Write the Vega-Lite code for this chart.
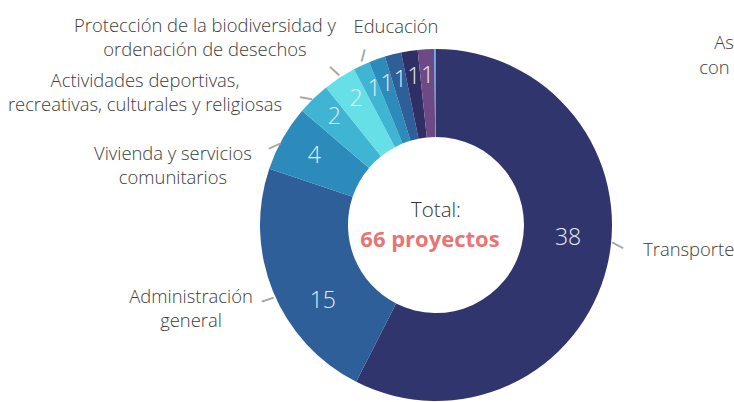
{
  "$schema": "https://vega.github.io/schema/vega-lite/v6.json",
  "width": 352,
  "height": 352,
  "autosize": {"type": "none"},
  "padding": {"left": 260, "top": 49, "right": 122, "bottom": 1},
  "background": "white",
  "config": {
    "view": {"stroke": null},
    "text": {"font": "Open Sans"}
  },
  "data": {
    "values": [
      {"rank": 1, "name": "Transporte", "value": 38, "label": "Transporte"},
      {"rank": 2, "name": "Administración general", "value": 15, "label": "Administración\ngeneral"},
      {"rank": 3, "name": "Vivienda y servicios comunitarios", "value": 4, "label": "Vivienda y servicios\ncomunitarios"},
      {"rank": 4, "name": "Actividades deportivas, recreativas, culturales y religiosas", "value": 2, "label": "Actividades deportivas,\nrecreativas, culturales y religiosas"},
      {"rank": 5, "name": "Protección de la biodiversidad y ordenación de desechos", "value": 2, "label": "Protección de la biodiversidad y\nordenación de desechos"},
      {"rank": 6, "name": "Educación", "value": 1, "label": "Educación"},
      {"rank": 7, "name": "Otro sector A", "value": 1, "label": ""},
      {"rank": 8, "name": "Otro sector B", "value": 1, "label": ""},
      {"rank": 9, "name": "Otro sector C", "value": 1, "label": ""},
      {"rank": 10, "name": "Otro sector D", "value": 1, "label": ""},
      {"rank": 11, "name": "Asuntos", "value": 0.1, "label": "Asuntos de género\ncon enfoque territorial"}
    ]
  },
  "layer": [
    {
      "mark": {"type": "arc", "innerRadius": 88, "radius": 176},
      "encoding": {
        "theta": {"field": "value", "type": "quantitative", "stack": true},
        "order": {"field": "rank", "type": "quantitative"},
        "color": {
          "field": "name", "type": "nominal", "legend": null,
          "scale": {
            "domain": ["Transporte", "Administración general", "Vivienda y servicios comunitarios", "Actividades deportivas, recreativas, culturales y religiosas", "Protección de la biodiversidad y ordenación de desechos", "Educación", "Otro sector A", "Otro sector B", "Otro sector C", "Otro sector D", "Asuntos"],
            "range": ["#31356e", "#2e5f99", "#2d8bbb", "#40b5d3", "#66e0e6", "#40b5d3", "#2d8bbb", "#2e5f99", "#2f2f66", "#6d4a86", "#3fa9f5"]
          }
        }
      }
    },
    {
      "mark": {"type": "text", "radius": 146, "dy": -3.5, "align": "center", "baseline": "middle", "fontSize": 23, "fontWeight": 300, "color": "#e6ecf2"},
      "encoding": {
        "theta": {"field": "value", "type": "quantitative", "stack": true},
        "order": {"field": "rank", "type": "quantitative"},
        "detail": {"field": "name", "type": "nominal"},
        "text": {"condition": {"test": "datum.value >= 1 && datum.value < 3", "field": "value", "type": "nominal"}, "value": ""}
      }
    },
    {
      "mark": {"type": "text", "radius": 140, "align": "center", "baseline": "middle", "fontSize": 23, "fontWeight": 300, "color": "#e6ecf2"},
      "encoding": {
        "theta": {"field": "value", "type": "quantitative", "stack": true},
        "order": {"field": "rank", "type": "quantitative"},
        "detail": {"field": "name", "type": "nominal"},
        "text": {"condition": {"test": "datum.value == 4", "field": "value", "type": "nominal"}, "value": ""}
      }
    },
    {
      "mark": {"type": "text", "radius": 133, "dx": 2.7, "dy": -18, "align": "center", "baseline": "middle", "fontSize": 23, "fontWeight": 300, "color": "#e6ecf2"},
      "encoding": {
        "theta": {"field": "value", "type": "quantitative", "stack": true},
        "order": {"field": "rank", "type": "quantitative"},
        "detail": {"field": "name", "type": "nominal"},
        "text": {"condition": {"test": "datum.value == 38", "field": "value", "type": "nominal"}, "value": ""}
      }
    },
    {
      "mark": {"type": "text", "radius": 133, "dx": 10, "dy": 26, "align": "center", "baseline": "middle", "fontSize": 23, "fontWeight": 300, "color": "#e6ecf2"},
      "encoding": {
        "theta": {"field": "value", "type": "quantitative", "stack": true},
        "order": {"field": "rank", "type": "quantitative"},
        "detail": {"field": "name", "type": "nominal"},
        "text": {"condition": {"test": "datum.value == 15", "field": "value", "type": "nominal"}, "value": ""}
      }
    },
    {
      "mark": {"type": "text", "radius": 176, "dx": 36, "dy": -10, "align": "left", "baseline": "alphabetic", "fontSize": 18.4, "fontWeight": 300, "color": "#3c3c3c", "lineBreak": "\n", "lineHeight": 24},
      "encoding": {
        "theta": {"field": "value", "type": "quantitative", "stack": true},
        "order": {"field": "rank", "type": "quantitative"},
        "detail": {"field": "name", "type": "nominal"},
        "text": {"condition": {"test": "datum.rank == 1", "field": "label", "type": "nominal"}, "value": ""}
      }
    },
    {
      "mark": {"type": "text", "radius": 176, "dx": -82, "dy": 11.5, "align": "center", "baseline": "alphabetic", "fontSize": 18.4, "fontWeight": 300, "color": "#3c3c3c", "lineBreak": "\n", "lineHeight": 24},
      "encoding": {
        "theta": {"field": "value", "type": "quantitative", "stack": true},
        "order": {"field": "rank", "type": "quantitative"},
        "detail": {"field": "name", "type": "nominal"},
        "text": {"condition": {"test": "datum.rank == 2", "field": "label", "type": "nominal"}, "value": ""}
      }
    },
    {
      "mark": {"type": "text", "radius": 176, "dx": -110, "dy": 22, "align": "center", "baseline": "alphabetic", "fontSize": 18.4, "fontWeight": 300, "color": "#3c3c3c", "lineBreak": "\n", "lineHeight": 24},
      "encoding": {
        "theta": {"field": "value", "type": "quantitative", "stack": true},
        "order": {"field": "rank", "type": "quantitative"},
        "detail": {"field": "name", "type": "nominal"},
        "text": {"condition": {"test": "datum.rank == 3", "field": "label", "type": "nominal"}, "value": ""}
      }
    },
    {
      "mark": {"type": "text", "radius": 176, "dx": -168.5, "dy": -11.6, "align": "center", "baseline": "alphabetic", "fontSize": 18.4, "fontWeight": 300, "color": "#3c3c3c", "lineBreak": "\n", "lineHeight": 24},
      "encoding": {
        "theta": {"field": "value", "type": "quantitative", "stack": true},
        "order": {"field": "rank", "type": "quantitative"},
        "detail": {"field": "name", "type": "nominal"},
        "text": {"condition": {"test": "datum.rank == 4", "field": "label", "type": "nominal"}, "value": ""}
      }
    },
    {
      "mark": {"type": "text", "radius": 176, "dx": -134.6, "dy": -45.8, "align": "center", "baseline": "alphabetic", "fontSize": 18.4, "fontWeight": 300, "color": "#3c3c3c", "lineBreak": "\n", "lineHeight": 24},
      "encoding": {
        "theta": {"field": "value", "type": "quantitative", "stack": true},
        "order": {"field": "rank", "type": "quantitative"},
        "detail": {"field": "name", "type": "nominal"},
        "text": {"condition": {"test": "datum.rank == 5", "field": "label", "type": "nominal"}, "value": ""}
      }
    },
    {
      "mark": {"type": "text", "radius": 176, "dx": 34.5, "dy": -32.6, "align": "center", "baseline": "alphabetic", "fontSize": 18.4, "fontWeight": 300, "color": "#3c3c3c", "lineBreak": "\n", "lineHeight": 24},
      "encoding": {
        "theta": {"field": "value", "type": "quantitative", "stack": true},
        "order": {"field": "rank", "type": "quantitative"},
        "detail": {"field": "name", "type": "nominal"},
        "text": {"condition": {"test": "datum.rank == 6", "field": "label", "type": "nominal"}, "value": ""}
      }
    },
    {
      "mark": {"type": "text", "radius": 176, "dx": 357, "dy": 0, "align": "center", "baseline": "alphabetic", "fontSize": 18.4, "fontWeight": 300, "color": "#3c3c3c", "lineBreak": "\n", "lineHeight": 25},
      "encoding": {
        "theta": {"field": "value", "type": "quantitative", "stack": true},
        "order": {"field": "rank", "type": "quantitative"},
        "detail": {"field": "name", "type": "nominal"},
        "text": {"condition": {"test": "datum.rank == 11", "field": "label", "type": "nominal"}, "value": ""}
      }
    },
    {
      "mark": {"type": "text", "radius": 176, "angle": 28.6, "dx": -0.9, "dy": -23.4, "align": "center", "baseline": "middle", "font": "DejaVu Sans", "fontWeight": "bold", "fontSize": 14, "color": "#a6a6a6"},
      "encoding": {
        "theta": {"field": "value", "type": "quantitative", "stack": true},
        "order": {"field": "rank", "type": "quantitative"},
        "detail": {"field": "name", "type": "nominal"},
        "text": {"condition": {"test": "datum.rank == 1", "value": "—"}, "value": ""}
      }
    },
    {
      "mark": {"type": "text", "radius": 176, "angle": -18.4, "dx": -7.75, "dy": 5.85, "align": "center", "baseline": "middle", "font": "DejaVu Sans", "fontWeight": "bold", "fontSize": 14, "color": "#a6a6a6"},
      "encoding": {
        "theta": {"field": "value", "type": "quantitative", "stack": true},
        "order": {"field": "rank", "type": "quantitative"},
        "detail": {"field": "name", "type": "nominal"},
        "text": {"condition": {"test": "datum.rank == 2", "value": "—"}, "value": ""}
      }
    },
    {
      "mark": {"type": "text", "radius": 176, "angle": -24.8, "dx": -10.9, "dy": 3.56, "align": "center", "baseline": "middle", "font": "DejaVu Sans", "fontWeight": "bold", "fontSize": 14, "color": "#a6a6a6"},
      "encoding": {
        "theta": {"field": "value", "type": "quantitative", "stack": true},
        "order": {"field": "rank", "type": "quantitative"},
        "detail": {"field": "name", "type": "nominal"},
        "text": {"condition": {"test": "datum.rank == 3", "value": "—"}, "value": ""}
      }
    },
    {
      "mark": {"type": "text", "radius": 176, "angle": 10.5, "dx": -7.48, "dy": 0.78, "align": "center", "baseline": "middle", "font": "DejaVu Sans", "fontWeight": "bold", "fontSize": 14, "color": "#a6a6a6"},
      "encoding": {
        "theta": {"field": "value", "type": "quantitative", "stack": true},
        "order": {"field": "rank", "type": "quantitative"},
        "detail": {"field": "name", "type": "nominal"},
        "text": {"condition": {"test": "datum.rank == 4", "value": "—"}, "value": ""}
      }
    },
    {
      "mark": {"type": "text", "radius": 176, "angle": 42, "dx": -8.19, "dy": -1.77, "align": "center", "baseline": "middle", "font": "DejaVu Sans", "fontWeight": "bold", "fontSize": 14, "color": "#a6a6a6"},
      "encoding": {
        "theta": {"field": "value", "type": "quantitative", "stack": true},
        "order": {"field": "rank", "type": "quantitative"},
        "detail": {"field": "name", "type": "nominal"},
        "text": {"condition": {"test": "datum.rank == 5", "value": "—"}, "value": ""}
      }
    },
    {
      "mark": {"type": "text", "radius": 176, "angle": -75, "dx": 10.15, "dy": -1.17, "align": "center", "baseline": "middle", "font": "DejaVu Sans", "fontWeight": "bold", "fontSize": 14, "color": "#a6a6a6"},
      "encoding": {
        "theta": {"field": "value", "type": "quantitative", "stack": true},
        "order": {"field": "rank", "type": "quantitative"},
        "detail": {"field": "name", "type": "nominal"},
        "text": {"condition": {"test": "datum.rank == 6", "value": "—"}, "value": ""}
      }
    },
    {
      "data": {"values": [{"t": "Total:"}]},
      "mark": {"type": "text", "dy": -8, "align": "center", "baseline": "alphabetic", "fontSize": 20.5, "fontWeight": 300, "color": "#333333"},
      "encoding": {"text": {"field": "t", "type": "nominal"}}
    },
    {
      "data": {"values": [{"t": "66 proyectos"}]},
      "mark": {"type": "text", "dx": -6, "dy": 22, "align": "center", "baseline": "alphabetic", "fontSize": 22, "fontWeight": "bold", "color": "#e87474"},
      "encoding": {"text": {"field": "t", "type": "nominal"}}
    }
  ]
}
